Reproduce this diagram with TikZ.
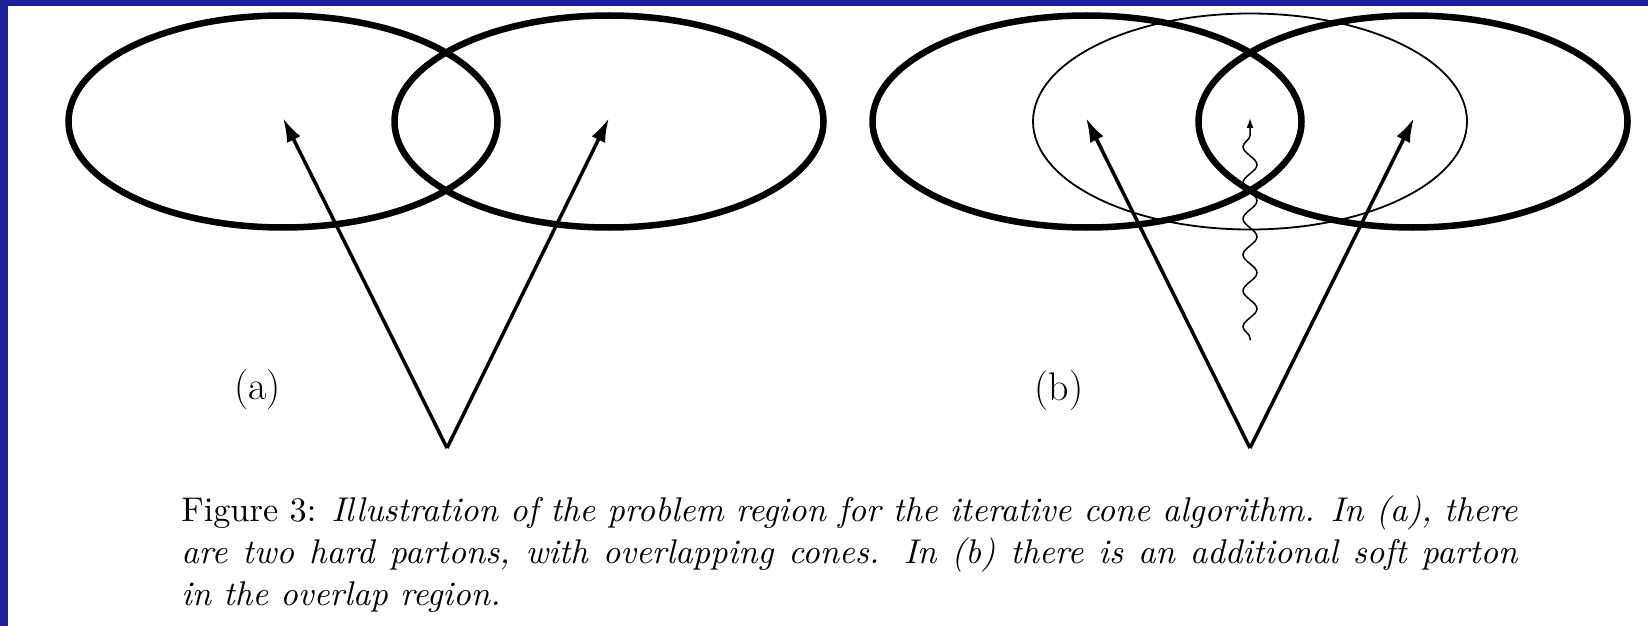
\documentclass[tikz,border=0pt]{standalone}
\usepackage{graphicx}
\usetikzlibrary{arrows.meta,decorations.pathmorphing}
\definecolor{frameblue}{RGB}{28,34,152}
\newlength\capW
\def\mycapfont{\fontsize{10}{12}\selectfont}
\def\capLineOne{Figure 3: \itshape Illustration of the problem region for the iterative cone algorithm. In (a), there}
\AtBeginDocument{%
  \settowidth\capW{\mycapfont\capLineOne}%
  \pgfmathsetmacro\capS{668/\capW}%
}
\begin{document}
\begin{tikzpicture}[x=0.5pt,y=-0.5pt,
  cone/.style={line width=3.25pt},
  softcone/.style={line width=0.9pt},
  parton/.style={line width=1.75pt,-{Latex[length=12pt,width=7.5pt]}},
  softparton/.style={line width=0.75pt,-{Latex[length=5pt,width=3.5pt]},decorate,
    decoration={snake,amplitude=3.5pt,segment length=18pt,pre length=1pt,post length=6pt}},
  lbl/.style={inner sep=0pt,anchor=base,font=\fontsize{20}{24}\selectfont},
  capline/.style={inner sep=0pt,anchor=base west}]
\fill[white] (0,0) rectangle (1648,626);
\fill[frameblue] (0,0) rectangle (8,626);
\fill[frameblue] (0,0) rectangle (1648,6);
\useasboundingbox (0,0) rectangle (1648,626);
% panel (a)
\coordinate (a1) at (283,121.5);
\coordinate (a2) at (609,121.5);
\coordinate (av) at (447,448);
\coordinate (at1) at (283,118);
\coordinate (at2) at (609,118);
\draw[cone] (a1) ellipse [x radius=214.5, y radius=106];
\draw[cone] (a2) ellipse [x radius=214.5, y radius=106];
\draw[parton] (av) -- (at1);
\draw[parton] (av) -- (at2);
\node[lbl] (la) at (257.5,399) {(a)};
% panel (b)
\coordinate (b1) at (1087,121.5);
\coordinate (b2) at (1413,121.5);
\coordinate (bm) at (1250,121.5);
\coordinate (bv) at (1250,448);
\coordinate (bt1) at (1086,118);
\coordinate (bt2) at (1414,118);
\coordinate (bs0) at (1250,340);
\coordinate (bs1) at (1250,118);
\draw[cone] (b1) ellipse [x radius=214.5, y radius=106];
\draw[cone] (b2) ellipse [x radius=214.5, y radius=106];
\draw[softcone] (bm) ellipse [x radius=217, y radius=108];
\draw[parton] (bv) -- (bt1);
\draw[parton] (bv) -- (bt2);
\draw[softparton] (bs0) -- (bs1);
\node[lbl] (lb) at (1059,400) {(b)};
% caption
\node[capline] (cap1) at (181,521) {\scalebox{\capS}{\makebox[\capW][s]{\mycapfont\capLineOne}}};
\node[capline] (cap2) at (181,563) {\scalebox{\capS}{\makebox[\capW][s]{\mycapfont\itshape are two hard partons, with overlapping cones. In (b) there is an additional soft parton}}};
\node[capline] (cap3) at (181,605) {\scalebox{\capS}{\mycapfont\itshape in the overlap region.}};
\end{tikzpicture}
\end{document}
